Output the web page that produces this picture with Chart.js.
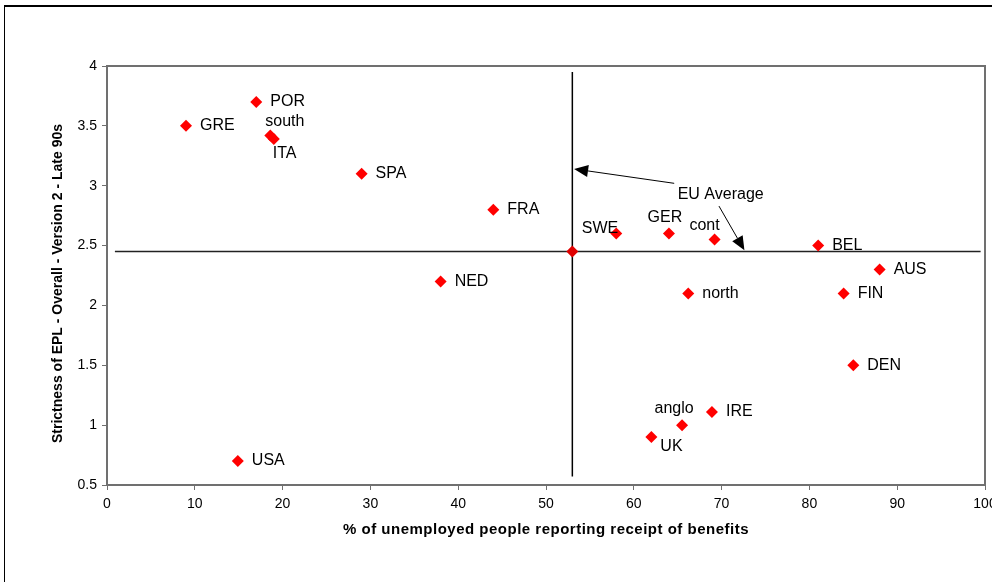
<!DOCTYPE html>
<html>
<head>
<meta charset="utf-8">
<script src="https://cdn.jsdelivr.net/npm/chart.js@4"></script>
<style>
  html, body { margin: 0; padding: 0; background: #fff; }
  #wrap { width: 992px; height: 582px; position: relative; }
</style>
</head>
<body>
<div id="wrap"><canvas id="myChart"></canvas></div>
<script>
// countries / groups
var names = ['GRE', 'POR', 'south', 'ITA', 'SPA', 'FRA', 'NED', 'SWE', 'GER', 'cont',
             'BEL', 'AUS', 'north', 'FIN', 'DEN', 'IRE', 'anglo', 'UK', 'USA'];
// % of unemployed reporting receipt of benefits
var benefits = [9, 17, 18.6, 19, 29, 44, 38, 58, 64, 69.2,
                81, 88, 66.2, 83.9, 85, 68.9, 65.5, 62, 14.9];
// strictness of EPL
var strictness = [3.5, 3.7, 3.42, 3.39, 3.1, 2.8, 2.2, 2.6, 2.6, 2.55,
                  2.5, 2.3, 2.1, 2.1, 1.5, 1.11, 1.0, 0.9, 0.7];

// EU average
var euX = 53;
var euY = 2.45;
var vLineY = [0.57, 3.95];
var hLineX = [0.9, 99.5];

var xTicks = [0, 10, 20, 30, 40, 50, 60, 70, 80, 90, 100];
var yTicks = [0.5, 1, 1.5, 2, 2.5, 3, 3.5, 4];

var xTitle = '% of unemployed people reporting receipt of benefits';
var yTitle = 'Strictness of EPL - Overall - Version 2 - Late 90s';

// arrows from "EU Average" label, in data units
var arrowFrom = [[64.6, 3.02], [69.7, 2.83]];
var arrowTo = [[53.2, 3.14], [72.6, 2.46]];
var euLabelAt = [65, 2.93];

// label placement (style only)
var labelPlace = {
  south: { dx: -5, dy: -14, align: 'left' },
  ITA: { dx: -1, dy: 15, align: 'left' },
  SWE: { dx: 2, dy: -5, align: 'right' },
  GER: { dx: -4, dy: -16, align: 'center' },
  cont: { dx: -10, dy: -14, align: 'center' },
  anglo: { dx: -8, dy: -17, align: 'center' },
  UK: { dx: 9, dy: 9, align: 'left' }
};

var points = benefits.map(function (v, i) { return { x: v, y: strictness[i] }; });

var labelsPlugin = {
  id: 'pointLabels',
  afterDatasetsDraw: function (chart) {
    var ctx = chart.ctx;
    var xs = chart.scales.x, ys = chart.scales.y;
    ctx.save();
    ctx.fillStyle = '#000';
    ctx.font = '16px "Liberation Sans", Arial, sans-serif';
    ctx.textBaseline = 'middle';
    names.forEach(function (n, i) {
      var px = xs.getPixelForValue(benefits[i]);
      var py = ys.getPixelForValue(strictness[i]);
      var p = labelPlace[n] || { dx: 14, dy: 0, align: 'left' };
      ctx.textAlign = p.align;
      ctx.fillText(n, px + p.dx, py + p.dy);
    });

    // EU Average label + arrows
    ctx.textAlign = 'left';
    ctx.fillText('EU Average', xs.getPixelForValue(euLabelAt[0]), ys.getPixelForValue(euLabelAt[1]));
    ctx.strokeStyle = '#000';
    ctx.lineWidth = 1;
    for (var k = 0; k < arrowFrom.length; k++) {
      var x1 = xs.getPixelForValue(arrowFrom[k][0]), y1 = ys.getPixelForValue(arrowFrom[k][1]);
      var x2 = xs.getPixelForValue(arrowTo[k][0]), y2 = ys.getPixelForValue(arrowTo[k][1]);
      var ang = Math.atan2(y2 - y1, x2 - x1);
      var len = 14, half = 6;
      var bx = x2 - Math.cos(ang) * len, by = y2 - Math.sin(ang) * len;
      ctx.beginPath();
      ctx.moveTo(x1, y1);
      ctx.lineTo(bx, by);
      ctx.stroke();
      ctx.beginPath();
      ctx.moveTo(x2, y2);
      ctx.lineTo(bx + Math.sin(ang) * half, by - Math.cos(ang) * half);
      ctx.lineTo(bx - Math.sin(ang) * half, by + Math.cos(ang) * half);
      ctx.closePath();
      ctx.fill();
    }
    ctx.restore();
  }
};

var framePlugin = {
  id: 'frame',
  beforeDraw: function (chart) {
    var ctx = chart.ctx;
    ctx.save();
    ctx.fillStyle = '#fff';
    ctx.fillRect(0, 0, chart.width, chart.height);
    ctx.strokeStyle = '#000';
    ctx.lineWidth = 2;
    ctx.beginPath();
    ctx.moveTo(4, 6);
    ctx.lineTo(chart.width, 6);
    ctx.stroke();
    ctx.lineWidth = 1;
    ctx.beginPath();
    ctx.moveTo(4.5, 6);
    ctx.lineTo(4.5, chart.height);
    ctx.stroke();
    ctx.restore();
  },
  afterDraw: function (chart) {
    var a = chart.chartArea, ctx = chart.ctx;
    ctx.save();
    ctx.strokeStyle = '#707070';
    ctx.lineWidth = 2;
    ctx.strokeRect(a.left, a.top, a.right - a.left, a.bottom - a.top);

    // axis titles
    ctx.fillStyle = '#000';
    ctx.textAlign = 'center';
    ctx.textBaseline = 'middle';
    ctx.font = 'bold 15px "Liberation Sans", Arial, sans-serif';
    ctx.letterSpacing = '0.5px';
    ctx.fillText(xTitle, (a.left + a.right) / 2, 530);
    ctx.font = 'bold 14px "Liberation Sans", Arial, sans-serif';
    ctx.letterSpacing = '0px';
    ctx.translate(58, (a.top + a.bottom) / 2 + 8);
    ctx.rotate(-Math.PI / 2);
    ctx.fillText(yTitle, 0, 0);
    ctx.restore();
  }
};

new Chart(document.getElementById('myChart'), {
  type: 'scatter',
  data: {
    datasets: [{
      label: 'countries',
      data: points,
      pointStyle: 'rectRot',
      pointRadius: 6,
      pointHoverRadius: 6,
      backgroundColor: '#ff0000',
      borderColor: '#ff0000',
      borderWidth: 0
    }, {
      label: 'EU average',
      data: [{ x: euX, y: euY }],
      pointStyle: 'rectRot',
      pointRadius: 6,
      backgroundColor: '#e00000',
      borderColor: '#e00000',
      borderWidth: 0
    }, {
      type: 'line',
      label: 'vline',
      data: [{ x: euX, y: vLineY[0] }, { x: euX, y: vLineY[1] }],
      borderColor: '#000',
      borderWidth: 1.5,
      pointRadius: 0,
      order: 5
    }, {
      type: 'line',
      label: 'hline',
      data: [{ x: hLineX[0], y: euY }, { x: hLineX[1], y: euY }],
      borderColor: '#222',
      borderWidth: 1.5,
      pointRadius: 0,
      order: 5
    }]
  },
  options: {
    responsive: true,
    maintainAspectRatio: false,
    animation: false,
    layout: { padding: { left: 0, top: 66, right: 7, bottom: 0 } },
    plugins: {
      legend: { display: false },
      tooltip: { enabled: false }
    },
    scales: {
      x: {
        type: 'linear',
        min: 0, max: 100,
        afterBuildTicks: function (s) { s.ticks = xTicks.map(function (v) { return { value: v }; }); },
        afterFit: function (s) { s.height = 97; s.paddingLeft = 0; s.paddingRight = 0; },
        grid: { display: true, drawOnChartArea: false, tickLength: 5, color: '#707070', lineWidth: 1 },
        border: { display: true, color: '#707070', width: 2 },
        ticks: { color: '#000', padding: 6, maxRotation: 0, autoSkip: false,
                 font: { family: '"Liberation Sans", Arial, sans-serif', size: 14 } },
        title: { display: false }
      },
      y: {
        type: 'linear',
        min: 0.5, max: 4,
        afterBuildTicks: function (s) { s.ticks = yTicks.map(function (v) { return { value: v }; }); },
        afterFit: function (s) { s.width = 107; s.paddingTop = 0; s.paddingBottom = 0; },
        grid: { display: true, drawOnChartArea: false, tickLength: 5, color: '#707070', lineWidth: 1 },
        border: { display: true, color: '#707070', width: 2 },
        ticks: { color: '#000', padding: 5,
                 callback: function (v) { return String(v); },
                 font: { family: '"Liberation Sans", Arial, sans-serif', size: 14 } },
        title: { display: false }
      }
    }
  },
  plugins: [framePlugin, labelsPlugin]
});
</script>
</body>
</html>
